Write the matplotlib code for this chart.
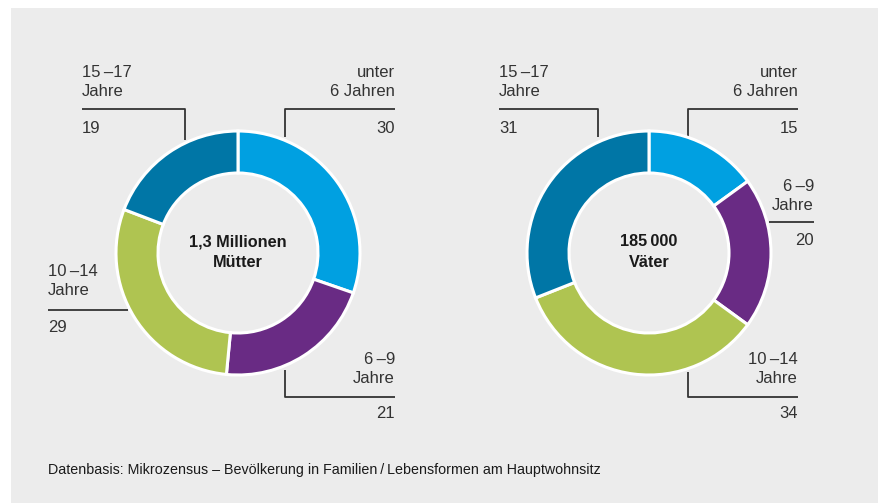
import matplotlib
matplotlib.use("Agg")
import matplotlib.pyplot as plt
from matplotlib.patches import Rectangle

# ---- data ----
categories = ["unter 6 Jahren", "6–9 Jahre", "10–14 Jahre", "15–17 Jahre"]
muetter = [30, 21, 29, 19]
vaeter = [15, 20, 34, 31]
colors = ["#00a0e1", "#692b84", "#afc451", "#0076a6"]
titles = ["1,3 Millionen\nMütter", "185\u2009000\nVäter"]
caption = "Datenbasis: Mikrozensus – Bevölkerung in Familien\u2009/\u2009Lebensformen am Hauptwohnsitz"

W, H = 879, 503
FONT = ["Liberation Sans", "DejaVu Sans"]
plt.rcParams["font.family"] = FONT

fig = plt.figure(figsize=(W / 100, H / 100), dpi=100, facecolor="white")
ax = fig.add_axes([0, 0, 1, 1])
ax.set_axis_off()

def Y(y):
    return H - y

ax.add_patch(Rectangle((11, 0), W - 11, H - 8, facecolor="#ececec", edgecolor="none", zorder=0))

R, RW = 122, 42
centers = [(238, Y(253)), (649, Y(253))]
for vals, c, t in zip([muetter, vaeter], centers, titles):
    wedges, _ = ax.pie(vals, colors=colors, startangle=90, counterclock=False,
                       radius=R, center=c,
                       wedgeprops=dict(width=RW, edgecolor="white", linewidth=2.2))
    for w in wedges:
        w.set_zorder(2)
    ax.text(c[0], c[1] + 1, t, ha="center", va="center", fontsize=11.7,
            fontweight="bold", color="#1a1a1a", linespacing=1.45, zorder=3)

ax.set_xlim(0, W)
ax.set_ylim(0, H)
ax.set_aspect("auto")

LC = "#333333"
LW = 1.3
TC = "#333333"
FS = 12

def line(xs, ys):
    ax.plot(xs, [Y(v) for v in ys], color=LC, lw=LW, solid_capstyle="butt", zorder=1)

def lab(x, y, s, ha):
    ax.text(x, Y(y), s, ha=ha, va="center", fontsize=FS, color=TC, linespacing=1.4)

D = "\u2009–"

# ---- left chart labels ----
lab(82, 82, "15" + D + "17\nJahre", "left")
line([82, 185, 185], [109, 109, 140])
lab(82, 128, str(muetter[3]), "left")

lab(395, 82, "unter\n6 Jahren", "right")
line([395, 285, 285], [109, 109, 137])
lab(395, 128, str(muetter[0]), "right")

lab(48, 281, "10" + D + "14\nJahre", "left")
line([48, 128], [310, 310])
lab(48, 327, str(muetter[2]), "left")

lab(395, 369, "6" + D + "9\nJahre", "right")
line([285, 285, 395], [370, 397, 397])
lab(395, 414, str(muetter[1]), "right")

# ---- right chart labels ----
lab(499, 82, "15" + D + "17\nJahre", "left")
line([499, 598, 598], [109, 109, 137])
lab(499, 128, str(vaeter[3]), "left")

lab(798, 82, "unter\n6 Jahren", "right")
line([798, 688, 688], [109, 109, 137])
lab(798, 128, str(vaeter[0]), "right")

lab(814, 196, "6" + D + "9\nJahre", "right")
line([769, 814], [222, 222])
lab(814, 240, str(vaeter[1]), "right")

lab(798, 369, "10" + D + "14\nJahre", "right")
line([688, 688, 798], [372, 397, 397])
lab(798, 414, str(vaeter[2]), "right")

ax.text(48, Y(470), caption, ha="left", va="center", fontsize=10.3, color="#1a1a1a")

fig.savefig("out.png", dpi=100, facecolor="white")
